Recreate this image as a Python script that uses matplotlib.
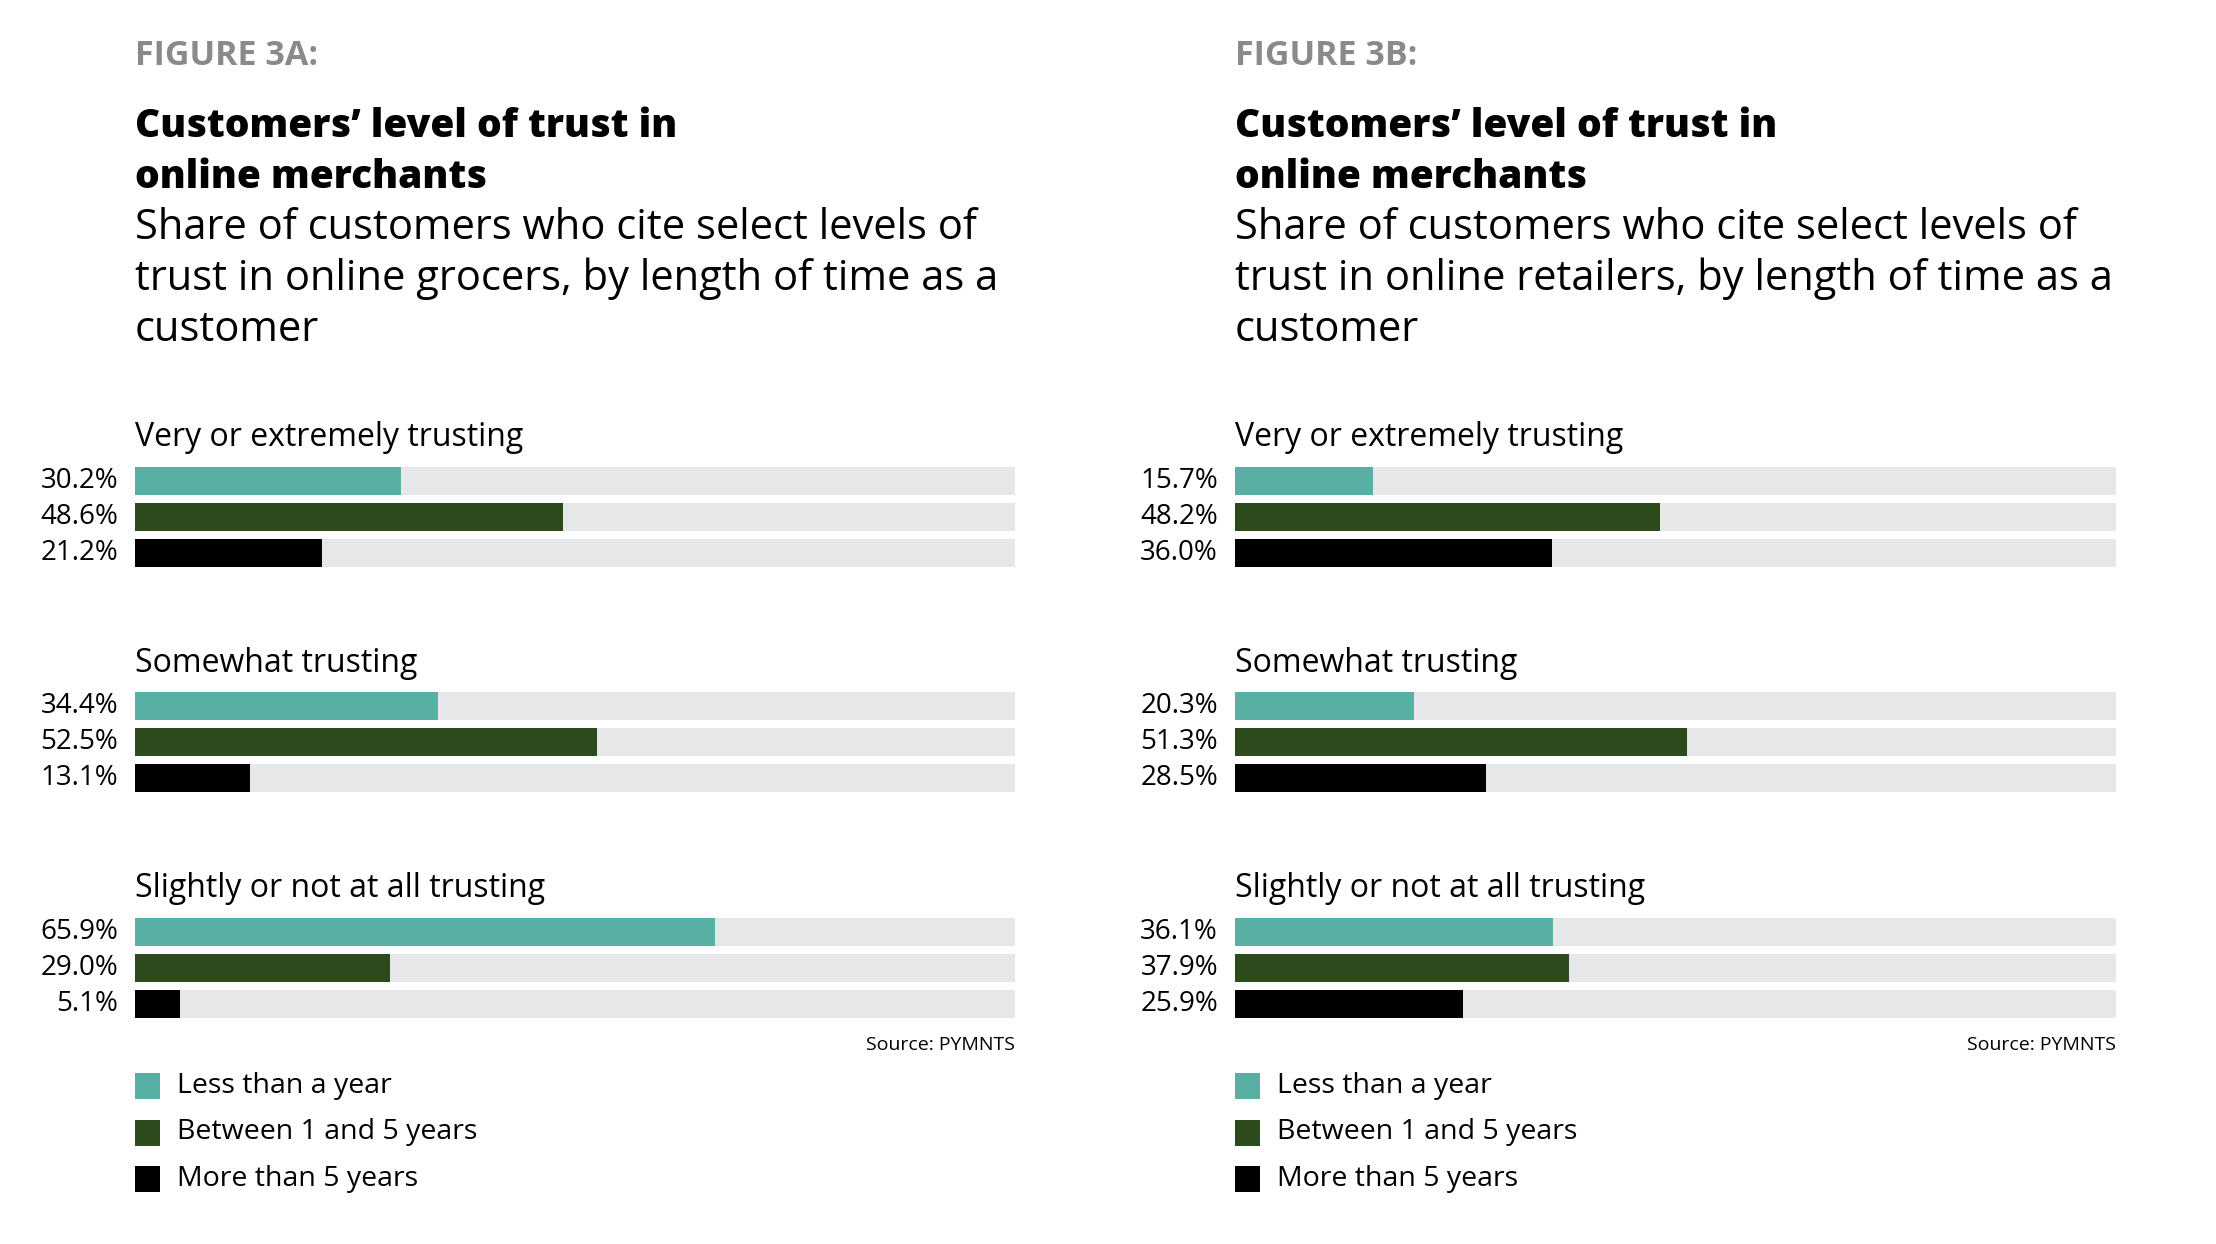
import matplotlib.pyplot as plt

# =========================
# Data
# =========================
groups = ["Very or extremely trusting", "Somewhat trusting", "Slightly or not at all trusting"]
series = ["Less than a year", "Between 1 and 5 years", "More than 5 years"]

# values per group, in series order
grocers = [
    [30.2, 48.6, 21.2],
    [34.4, 52.5, 13.1],
    [65.9, 29.0, 5.1],
]
retailers = [
    [15.7, 48.2, 36.0],
    [20.3, 51.3, 28.5],
    [36.1, 37.9, 25.9],
]

fig_labels = ["FIGURE 3A:", "FIGURE 3B:"]
subtitles = [
    "Share of customers who cite select levels of\ntrust in online grocers, by length of time as a\ncustomer",
    "Share of customers who cite select levels of\ntrust in online retailers, by length of time as a\ncustomer",
]
title = "Customers\u2019 level of trust in\nonline merchants"

# =========================
# Style
# =========================
colors = ["#58afa3", "#2c4a1b", "#000000"]
track = "#e6e7e8"
font = "Open Sans"

W, H = 2216, 1244
fig = plt.figure(figsize=(W / 100, H / 100), dpi=100)
fig.patch.set_facecolor("white")

panel_x = [(135, 1015), (1235, 2116)]
group_top = 481
group_step = 225.3
bar_step = 36.0
bar_h = 28


def draw_panel(x0, x1, data, fig_label, subtitle):
    ax = fig.add_axes([x0 / W, 0, (x1 - x0) / W, 1])
    ax.set_xlim(0, 100)
    ax.set_ylim(H, 0)
    ax.axis("off")
    px = 100 / (x1 - x0)  # data units per pixel

    ax.text(0, 56, fig_label, fontsize=24.5, fontweight="bold", color="#8a8a8a",
            family=font, va="center", ha="left")
    ax.text(0, 152, title, fontsize=28, fontweight=800, color="black",
            family=font, va="center", ha="left", linespacing=1.4)
    ax.text(0, 279, subtitle, fontsize=30, color="black",
            family=font, va="center", ha="left", linespacing=1.26)

    for g, (name, vals) in enumerate(zip(groups, data)):
        top = group_top + g * group_step
        ax.text(0, top - 43, name, fontsize=23, family=font,
                va="center", ha="left")
        ys = [top + i * bar_step for i in range(len(vals))]
        ax.barh(ys, [100] * len(vals), height=bar_h, color=track, left=0)
        ax.barh(ys, vals, height=bar_h, color=colors)
        for y, v in zip(ys, vals):
            ax.text(-17 * px, y, f"{v:.1f}%", fontsize=20, family=font,
                    va="center", ha="right", clip_on=False)

    ax.text(100, 1045, "Source: PYMNTS", fontsize=14, family=font,
            va="center", ha="right")

    for i, (s, c) in enumerate(zip(series, colors)):
        y = 1086 + i * 46.5
        ax.barh(y, 25 * px, height=26, left=0, color=c)
        ax.text(42 * px, y, s, fontsize=20.5, family=font,
                va="center", ha="left")


for (x0, x1), data, lab, sub in zip(panel_x, [grocers, retailers], fig_labels, subtitles):
    draw_panel(x0, x1, data, lab, sub)

fig.savefig("out.png", dpi=100, facecolor="white")
